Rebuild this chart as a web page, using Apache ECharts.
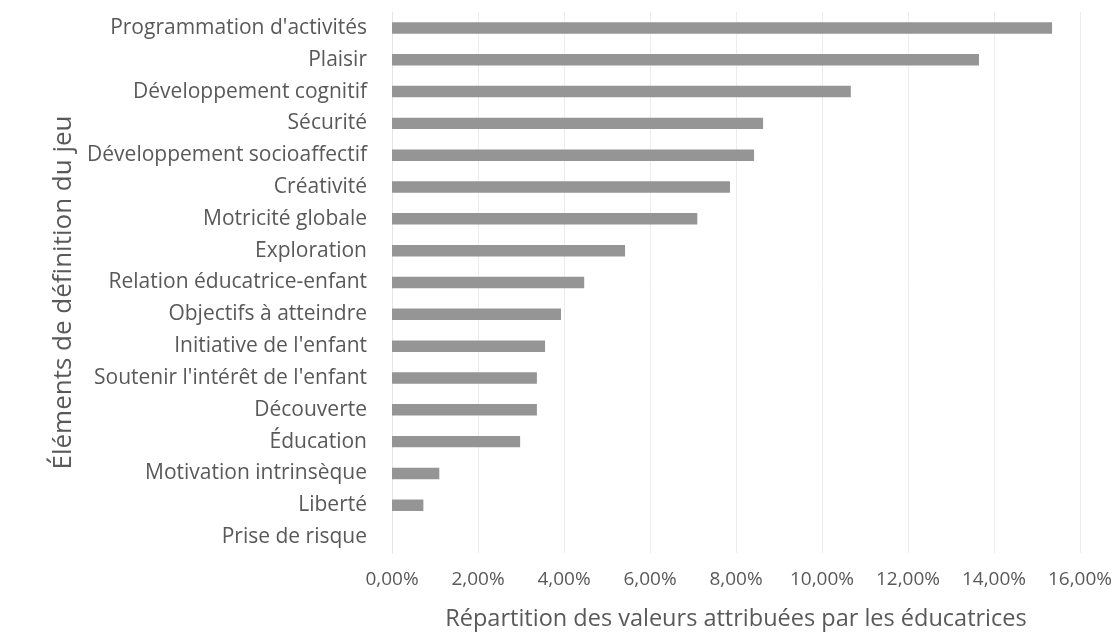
<!DOCTYPE html>
<html>
<head>
<meta charset="utf-8">
<script src="https://cdn.jsdelivr.net/npm/echarts@6/dist/echarts.min.js"></script>
<style>
html, body { margin: 0; padding: 0; background: #ffffff; }
#chart { width: 1120px; height: 640px; }
</style>
</head>
<body>
<div id="chart"></div>
<script>
// Elements used by the educators to define play, top to bottom
const categories = [
  "Programmation d'activités",
  "Plaisir",
  "Développement cognitif",
  "Sécurité",
  "Développement socioaffectif",
  "Créativité",
  "Motricité globale",
  "Exploration",
  "Relation éducatrice-enfant",
  "Objectifs à atteindre",
  "Initiative de l'enfant",
  "Soutenir l'intérêt de l'enfant",
  "Découverte",
  "Éducation",
  "Motivation intrinsèque",
  "Liberté",
  "Prise de risque"
];

// Share of values attributed (percent)
const shares = [15.35, 13.65, 10.67, 8.63, 8.42, 7.86, 7.10, 5.42, 4.47, 3.93, 3.56, 3.37, 3.37, 2.98, 1.10, 0.73, 0];

const xTicks = { min: 0, max: 16, step: 2 };

const chart = echarts.init(document.getElementById('chart'), null, { renderer: 'canvas' });
const font = '"Open Sans", "Noto Sans", sans-serif';

chart.setOption({
  animation: false,
  backgroundColor: '#ffffff',
  grid: { left: 392, right: 40, top: 12, bottom: 87, containLabel: false },
  xAxis: {
    type: 'value',
    min: xTicks.min,
    max: xTicks.max,
    interval: xTicks.step,
    name: 'Répartition des valeurs attribuées par les éducatrices',
    nameLocation: 'middle',
    nameGap: 54,
    nameTextStyle: { fontFamily: font, fontSize: 23.5, color: '#595959' },
    axisLine: { show: false },
    axisTick: { show: false },
    axisLabel: {
      margin: 17,
      fontFamily: font,
      fontSize: 19,
      color: '#595959',
      formatter: v => v.toFixed(2).replace('.', ',') + '%'
    },
    splitLine: { show: true, lineStyle: { color: '#ececec', width: 1 } }
  },
  yAxis: {
    type: 'category',
    data: categories,
    inverse: true,
    name: 'Éléments de définition du jeu',
    nameLocation: 'middle',
    nameGap: 305,
    nameRotate: 90,
    nameTextStyle: { fontFamily: font, fontSize: 26, color: '#595959', padding: [0, 20, 0, 0] },
    axisLine: { show: true, lineStyle: { color: '#e4e4e4' } },
    axisTick: { show: false },
    axisLabel: { margin: 25, fontFamily: font, fontSize: 21, color: '#595959' }
  },
  series: [{
    type: 'bar',
    data: shares,
    barCategoryGap: '64%',
    itemStyle: { color: '#959595' }
  }]
});
</script>
</body>
</html>
